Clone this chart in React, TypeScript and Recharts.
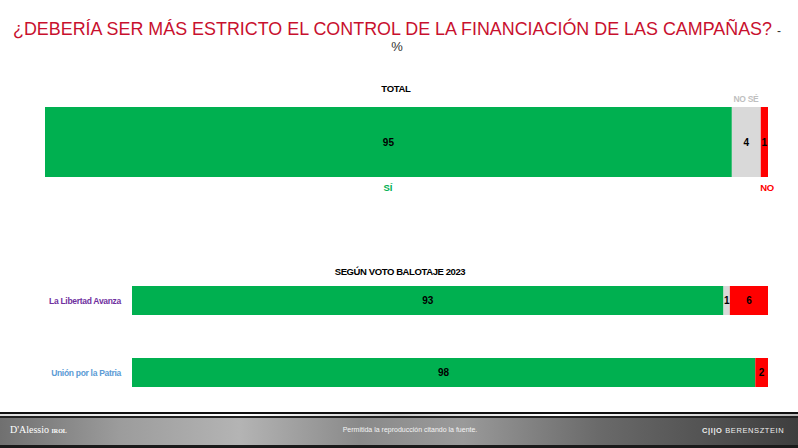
import React from 'react';
import { BarChart, Bar, XAxis, YAxis, LabelList } from 'recharts';

const FONT = "'Liberation Sans', Arial, sans-serif";
const GREEN = '#00b050';
const GRAY = '#d9d9d9';
const RED = '#ff0000';

// TOTAL
const totalLabel = ['TOTAL'];
const totalSi = [95];
const totalNoSe = [4];
const totalNo = [1];

// Según voto balotaje 2023
const segments = ['La Libertad Avanza', 'Unión por la Patria'];
const segmentColors = ['#7030a0', '#5b9bd5'];
const segSi = [93, 98];
const segNoSe = [1, 0];
const segNo = [6, 2];

const totalData = totalLabel.map((name, i) => ({ name, si: totalSi[i], nose: totalNoSe[i], no: totalNo[i] }));
const segData = segments.map((name, i) => ({ name, si: segSi[i], nose: segNoSe[i], no: segNo[i] }));

const labelStyle = { fill: '#000', fontSize: 10, fontWeight: 700, fontFamily: FONT };
const hideZero = (v: any) => (v ? v : '');

const SegTick = (props: any) => {
  const { x, y, payload, index } = props;
  return (
    <text x={x - 3} y={y} dy={4} textAnchor="end" fontSize={8.5} fontWeight={700} letterSpacing={-0.3}
      fontFamily={FONT} fill={segmentColors[index % segmentColors.length]}>
      {payload.value}
    </text>
  );
};

export default function App() {
  return (
    <div style={{ position: 'absolute', left: 0, top: 0, width: 798, height: 448, background: '#fff', overflow: 'hidden', fontFamily: FONT }}>
      <svg width={798} height={448} style={{ position: 'absolute', left: 0, top: 0 }}>
        <text x={13} y={35} fontSize={18} fill="#c8102e" textLength={759} lengthAdjust="spacingAndGlyphs">
          ¿DEBERÍA SER MÁS ESTRICTO EL CONTROL DE LA FINANCIACIÓN DE LAS CAMPAÑAS?
        </text>
        <text x={777} y={35} fontSize={12} fill="#333">-</text>
        <text x={397} y={51} fontSize={13} fill="#333" textAnchor="middle">%</text>
        <text x={396} y={92} fontSize={9.5} fontWeight={700} fill="#000" textAnchor="middle" letterSpacing={-0.3}>TOTAL</text>
        <text x={746} y={102} fontSize={8.5} fontWeight={700} fill="#bfbfbf" textAnchor="middle" letterSpacing={-0.3}>NO SÉ</text>
        <text x={388} y={191} fontSize={9.5} fontWeight={700} fill={GREEN} textAnchor="middle">SÍ</text>
        <text x={767} y={191} fontSize={9.5} fontWeight={700} fill={RED} textAnchor="middle" letterSpacing={-0.3}>NO</text>
        <text x={400} y={275} fontSize={9.5} fontWeight={700} fill="#000" textAnchor="middle" letterSpacing={-0.4}>SEGÚN VOTO BALOTAJE 2023</text>
      </svg>

      <div style={{ position: 'absolute', left: 0, top: 107 }}>
        <BarChart width={798} height={70} data={totalData} layout="vertical" barCategoryGap={0}
          margin={{ top: 0, right: 30, left: 45, bottom: 0 }}>
          <XAxis type="number" domain={[0, 100]} hide />
          <YAxis type="category" dataKey="name" hide />
          <Bar dataKey="si" stackId="a" fill={GREEN} isAnimationActive={false}>
            <LabelList dataKey="si" position="center" style={labelStyle} />
          </Bar>
          <Bar dataKey="nose" stackId="a" fill={GRAY} isAnimationActive={false}>
            <LabelList dataKey="nose" position="center" style={labelStyle} />
          </Bar>
          <Bar dataKey="no" stackId="a" fill={RED} isAnimationActive={false}>
            <LabelList dataKey="no" position="center" style={labelStyle} />
          </Bar>
        </BarChart>
      </div>

      <div style={{ position: 'absolute', left: 0, top: 264 }}>
        <BarChart width={798} height={144} data={segData} layout="vertical" barSize={29}
          margin={{ top: 0, right: 30, left: 0, bottom: 0 }}>
          <XAxis type="number" domain={[0, 100]} hide />
          <YAxis type="category" dataKey="name" width={132} axisLine={false} tickLine={false} tick={<SegTick />} />
          <Bar dataKey="si" stackId="a" fill={GREEN} isAnimationActive={false}>
            <LabelList dataKey="si" position="center" style={labelStyle} formatter={hideZero} />
          </Bar>
          <Bar dataKey="nose" stackId="a" fill={GRAY} isAnimationActive={false}>
            <LabelList dataKey="nose" position="center" style={labelStyle} formatter={hideZero} />
          </Bar>
          <Bar dataKey="no" stackId="a" fill={RED} isAnimationActive={false}>
            <LabelList dataKey="no" position="center" style={labelStyle} formatter={hideZero} />
          </Bar>
        </BarChart>
      </div>

      {/* footer band */}
      <div style={{ position: 'absolute', left: 0, top: 412, width: 798, height: 2, background: '#111' }} />
      <div style={{ position: 'absolute', left: 0, top: 414, width: 798, height: 2, background: 'linear-gradient(90deg,#ddd,#fff 30%,#ccc 50%,#fff 70%,#bbb)' }} />
      <div style={{ position: 'absolute', left: 0, top: 416, width: 798, height: 2, background: '#222' }} />
      <div style={{
        position: 'absolute', left: 0, top: 418, width: 798, height: 27,
        background: 'linear-gradient(90deg,#707070 0%,#9c9c9c 15%,#b4b4b4 30%,#8a8a8a 45%,#9a9a9a 58%,#6a6a6a 75%,#3e3e3e 100%)',
      }} />
      <div style={{ position: 'absolute', left: 0, top: 445, width: 798, height: 3, background: '#1a1a1a' }} />
      <div style={{ position: 'absolute', left: 10, top: 424, color: '#fff', fontFamily: "'Liberation Serif', serif", fontSize: 10 }}>
        D'Alessio <span style={{ fontSize: 6, fontWeight: 700 }}>IROL</span>
      </div>
      <div style={{ position: 'absolute', left: 340, top: 426, color: '#f4f4f4', fontSize: 7, width: 140, textAlign: 'center', whiteSpace: 'nowrap' }}>
        Permitida la reproducción citando la fuente.
      </div>
      <div style={{ position: 'absolute', left: 702, top: 426, color: '#eee', fontSize: 7.5, letterSpacing: 0.6, whiteSpace: 'nowrap' }}>
        <span style={{ fontWeight: 700 }}>C|I|O</span> BERENSZTEIN
      </div>
    </div>
  );
}
